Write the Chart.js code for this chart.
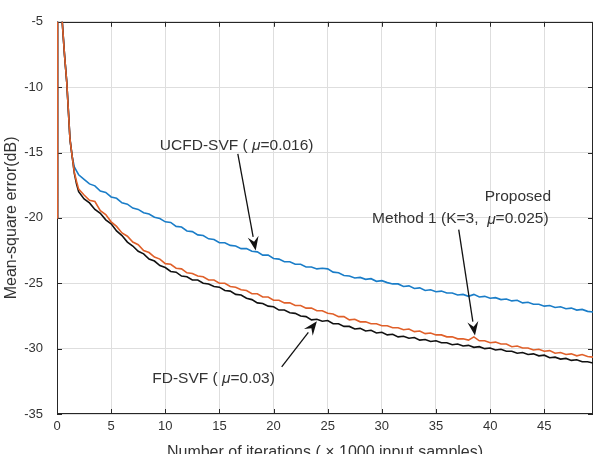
<!DOCTYPE html>
<html>
<head>
<meta charset="utf-8">
<script src="https://cdn.jsdelivr.net/npm/chart.js@4/dist/chart.umd.min.js"></script>
<style>
  html, body { margin: 0; padding: 0; background: #fff; }
  canvas { display: block; }
</style>
</head>
<body>
<canvas id="graficoMSE" width="597" height="454"></canvas>
<script>
// iteraciones (x 1000 muestras)
const iteraciones = [
  0, 0.05, 0.3, 0.5, 0.7, 0.9, 1.05, 1.2, 1.4, 1.6, 1.8,
  2, 2.5, 3, 3.5, 4, 4.5, 5, 5.5, 6, 6.5,
  7, 7.5, 8, 8.5, 9, 9.5, 10, 10.5, 11, 11.5,
  12, 12.5, 13, 13.5, 14, 14.5, 15, 15.5, 16, 16.5,
  17, 17.5, 18, 18.5, 19, 19.5, 20, 20.5, 21, 21.5,
  22, 22.5, 23, 23.5, 24, 24.5, 25, 25.5, 26, 26.5,
  27, 27.5, 28, 28.5, 29, 29.5, 30, 30.5, 31, 31.5,
  32, 32.5, 33, 33.5, 34, 34.5, 35, 35.5, 36, 36.5,
  37, 37.5, 38, 38.5, 39, 39.5, 40, 40.5, 41, 41.5,
  42, 42.5, 43, 43.5, 44, 44.5, 45, 45.5, 46, 46.5,
  47, 47.5, 48, 48.5, 49, 49.5
];

// UCFD-SVF (mu=0.016)
const ucfdSvf = [
  -20, -1, -3, -5.2, -7.6, -9.6, -11.8, -14.0, -15.3, -16.1, -16.4,
  -16.7, -17.05, -17.4, -17.55, -17.95, -18.05, -18.4, -18.5, -18.85, -18.95,
  -19.25, -19.35, -19.6, -19.7, -19.95, -20.05, -20.3, -20.35, -20.65, -20.7,
  -21.0, -21.05, -21.3, -21.35, -21.6, -21.65, -21.9, -21.9, -22.1, -22.15,
  -22.35, -22.35, -22.55, -22.6, -22.85, -22.85, -23.1, -23.15, -23.35, -23.35,
  -23.55, -23.55, -23.75, -23.75, -23.9, -23.85, -23.9, -24.15, -24.2, -24.4,
  -24.45, -24.6, -24.55, -24.7, -24.65, -24.85, -24.8, -24.95, -25.05, -25.05,
  -25.25, -25.2, -25.4, -25.35, -25.55, -25.5, -25.65, -25.6, -25.75, -25.75,
  -25.9, -25.85, -26.0, -25.85, -26.05, -26.0, -26.15, -26.1, -26.25, -26.2,
  -26.35, -26.3, -26.5, -26.45, -26.6, -26.6, -26.75, -26.7, -26.85, -26.8,
  -26.95, -26.9, -27.05, -27.0, -27.15, -27.2
];

// FD-SVF (mu=0.03)
const fdSvf = [
  -20, -1, -3, -5.2, -7.6, -9.6, -11.8, -14.0, -15.3, -16.6, -17.4,
  -18.0, -18.55, -18.85, -19.35, -19.65, -20.15, -20.45, -21.0, -21.35, -21.85,
  -22.15, -22.55, -22.75, -23.15, -23.3, -23.65, -23.8, -24.1, -24.15, -24.45,
  -24.5, -24.75, -24.75, -25.0, -25.05, -25.25, -25.3, -25.55, -25.6, -25.85,
  -25.9, -26.15, -26.25, -26.5, -26.55, -26.75, -26.8, -27.05, -27.05, -27.25,
  -27.3, -27.5, -27.55, -27.8, -27.75, -27.9, -27.85, -28.1, -28.1, -28.3,
  -28.3, -28.5, -28.45, -28.65, -28.6, -28.8, -28.75, -28.95, -28.9, -29.1,
  -29.05, -29.2, -29.15, -29.35, -29.3, -29.45, -29.4, -29.55, -29.55, -29.7,
  -29.65, -29.8, -29.75, -29.9, -29.85, -30.0, -29.95, -30.1, -30.05, -30.2,
  -30.2, -30.35, -30.3, -30.45, -30.4, -30.55, -30.5, -30.7, -30.65, -30.8,
  -30.75, -30.9, -30.85, -31.0, -31.0, -31.1
];

// Proposed Method 1 (K=3, mu=0.025)
const metodo1 = [
  -20, -1, -3, -5.2, -7.6, -9.6, -11.8, -14.0, -15.3, -16.5, -17.2,
  -17.8, -18.25, -18.65, -18.75, -19.45, -19.75, -20.3, -20.65, -21.15, -21.4,
  -21.85, -22.05, -22.5, -22.65, -23.0, -23.15, -23.5, -23.55, -23.85, -23.9,
  -24.2, -24.25, -24.45, -24.5, -24.75, -24.75, -25.0, -25.0, -25.25, -25.3,
  -25.5, -25.55, -25.8, -25.8, -26.05, -26.05, -26.3, -26.3, -26.5, -26.5,
  -26.7, -26.7, -26.9, -26.9, -27.1, -27.1, -27.3, -27.35, -27.55, -27.55,
  -27.8, -27.75, -27.95, -27.95, -28.1, -28.1, -28.25, -28.25, -28.4, -28.4,
  -28.55, -28.5, -28.7, -28.65, -28.85, -28.8, -28.95, -28.95, -29.1, -29.1,
  -29.25, -29.25, -29.35, -29.1, -29.4, -29.4, -29.55, -29.5, -29.65, -29.65,
  -29.85, -29.8, -29.95, -29.95, -30.1, -30.05, -30.2, -30.15, -30.35, -30.3,
  -30.45, -30.4, -30.55, -30.45, -30.6, -30.65
];

// Textos de las anotaciones (posicion en unidades de los ejes)
const notas = [
  { x: 9.5, y: -14.45, partes: [['UCFD-SVF ( ', false], ['\u03bc', true], ['=0.016)', false]] },
  { x: 39.5, y: -18.4, partes: [['Proposed', false]] },
  { x: 29.1, y: -20.1, partes: [['Method 1 (K=3,  ', false], ['\u03bc', true], ['=0.025)', false]] },
  { x: 8.8, y: -32.3, partes: [['FD-SVF ( ', false], ['\u03bc', true], ['=0.03)', false]] }
];
// Flechas: [x inicio, y inicio, x punta, y punta]
const flechas = [
  [16.7, -15.1, 18.35, -22.5],
  [37.1, -20.9, 38.6, -29.0],
  [20.75, -31.4, 24.0, -27.9]
];

const FUENTE = "'Liberation Sans', Arial, sans-serif";
const COLOR_EJE = '#262626';

// Caja del eje, marcas hacia dentro y anotaciones
const pluginMatlab = {
  id: 'pluginMatlab',
  beforeDatasetsDraw(chart) {
    const { ctx, chartArea: a, scales: { x, y } } = chart;
    ctx.save();
    ctx.strokeStyle = COLOR_EJE;
    ctx.lineWidth = 1;
    ctx.beginPath();
    x.ticks.forEach(t => {
      const px = Math.round(x.getPixelForValue(t.value)) + 0.5;
      ctx.moveTo(px, a.bottom); ctx.lineTo(px, a.bottom - 5);
      ctx.moveTo(px, a.top); ctx.lineTo(px, a.top + 5);
    });
    y.ticks.forEach(t => {
      const py = Math.round(y.getPixelForValue(t.value)) + 0.5;
      ctx.moveTo(a.left, py); ctx.lineTo(a.left + 5, py);
      ctx.moveTo(a.right, py); ctx.lineTo(a.right - 5, py);
    });
    ctx.stroke();
    ctx.strokeRect(Math.round(a.left) + 0.5, Math.round(a.top) + 0.5,
      Math.round(a.right - a.left) - 1, Math.round(a.bottom - a.top) - 1);
    ctx.restore();
  },
  afterDatasetsDraw(chart) {
    const { ctx, scales: { x, y } } = chart;
    ctx.save();
    // flechas
    ctx.strokeStyle = '#111';
    ctx.fillStyle = '#111';
    ctx.lineWidth = 1.3;
    flechas.forEach(f => {
      const x0 = x.getPixelForValue(f[0]), y0 = y.getPixelForValue(f[1]);
      const x1 = x.getPixelForValue(f[2]), y1 = y.getPixelForValue(f[3]);
      const ang = Math.atan2(y1 - y0, x1 - x0);
      const largo = 14, ancho = 5.5;
      const bx = x1 - largo * Math.cos(ang), by = y1 - largo * Math.sin(ang);
      ctx.beginPath();
      ctx.moveTo(x0, y0); ctx.lineTo(bx, by);
      ctx.stroke();
      ctx.beginPath();
      ctx.moveTo(x1, y1);
      ctx.lineTo(bx + ancho * Math.sin(ang), by - ancho * Math.cos(ang));
      ctx.lineTo(x1 - 9 * Math.cos(ang), y1 - 9 * Math.sin(ang));
      ctx.lineTo(bx - ancho * Math.sin(ang), by + ancho * Math.cos(ang));
      ctx.closePath();
      ctx.fill();
    });

    // textos
    ctx.fillStyle = '#333';
    ctx.textBaseline = 'middle';
    ctx.textAlign = 'left';
    notas.forEach(n => {
      let px = x.getPixelForValue(n.x);
      const py = y.getPixelForValue(n.y);
      n.partes.forEach(([txt, cursiva]) => {
        ctx.font = (cursiva ? 'italic ' : '') + '15.5px ' + FUENTE;
        ctx.fillText(txt, px, py);
        px += ctx.measureText(txt).width;
      });
    });
    ctx.restore();
  }
};

const ctx = document.getElementById('graficoMSE').getContext('2d');
new Chart(ctx, {
  type: 'line',
  data: {
    datasets: [
      {
        label: 'Proposed Method 1',
        data: iteraciones.map((v, i) => ({ x: v, y: metodo1[i] })),
        borderColor: '#e0602a',
        borderWidth: 1.6
      },
      {
        label: 'FD-SVF',
        data: iteraciones.map((v, i) => ({ x: v, y: fdSvf[i] })),
        borderColor: '#111111',
        borderWidth: 1.6
      },
      {
        label: 'UCFD-SVF',
        data: iteraciones.map((v, i) => ({ x: v, y: ucfdSvf[i] })),
        borderColor: '#1a7dc8',
        borderWidth: 1.6
      }
    ]
  },
  options: {
    responsive: false,
    animation: false,
    events: [],
    elements: { point: { radius: 0 }, line: { tension: 0 } },
    layout: { padding: { top: 8, right: 4, bottom: 0, left: 0 } },
    plugins: { legend: { display: false }, tooltip: { enabled: false } },
    scales: {
      x: {
        type: 'linear',
        min: 0,
        max: 49.5,
        afterFit: s => { s.height = 40; },
        ticks: { stepSize: 5, includeBounds: false, padding: 5, color: '#333', font: { family: FUENTE, size: 13 } },
        grid: { color: '#dedede', drawTicks: false },
        border: { display: false },
        title: {
          display: true,
          text: 'Number of iterations ( \u00d7 1000 input samples)',
          color: '#333',
          font: { family: FUENTE, size: 16 },
          padding: { top: 0, bottom: -8 }
        }
      },
      y: {
        min: -35,
        max: -5,
        afterFit: s => { s.width = 57; },
        ticks: { stepSize: 5, padding: 14, color: '#333', font: { family: FUENTE, size: 13 } },
        grid: { color: '#dedede', drawTicks: false },
        border: { display: false },
        title: {
          display: true,
          text: 'Mean-square error(dB)',
          color: '#333',
          font: { family: FUENTE, size: 16 },
          padding: { top: 2, bottom: 0 }
        }
      }
    }
  },
  plugins: [pluginMatlab]
});
</script>
</body>
</html>
